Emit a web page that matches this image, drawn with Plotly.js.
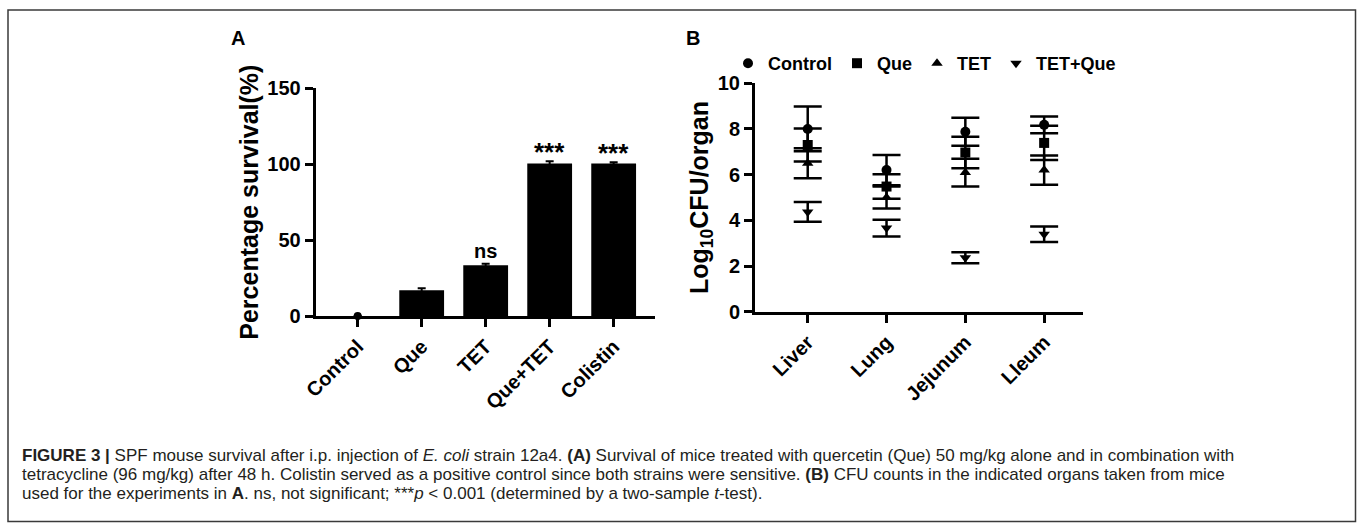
<!DOCTYPE html>
<html>
<head>
<meta charset="utf-8">
<script src="https://cdn.plot.ly/plotly-3.0.1.min.js"></script>
<style>
  html, body { margin: 0; padding: 0; background: #ffffff; }
  #chart { width: 1360px; height: 523px; }
</style>
</head>
<body>
<div id="chart"></div>
<script>
// ---------- Panel A data ----------
const categoriesA = ['Control', 'Que', 'TET', 'Que+TET', 'Colistin'];
const survival = [0, 17, 33.5, 100.5, 100.5];
const survivalErr = [0, 1.2, 1.0, 1.5, 0.8];
const sigLabels = ['', '', 'ns', '***', '***'];

// ---------- Panel B data ----------
const organs = ['Liver', 'Lung', 'Jejunum', 'Lleum'];
const seriesNames = ['Control', 'Que', 'TET', 'TET+Que'];
const controlCFU = [8.0, 6.2, 7.88, 8.18];
const controlErr = [0.98, 0.66, 0.61, 0.37];
const queCFU = [7.3, 5.48, 6.97, 7.39];
const queErr = [0.72, 0.54, 0.69, 0.75];
const tetCFU = [6.5, 5.0, 6.09, 6.2];
const tetErr = [0.66, 0.48, 0.61, 0.64];
const tetQueCFU = [4.37, 3.66, 2.36, 3.39];
const tetQueErr = [0.43, 0.37, 0.24, 0.34];

const seriesValues = [controlCFU, queCFU, tetCFU, tetQueCFU];
const seriesErrors = [controlErr, queErr, tetErr, tetQueErr];
const seriesSymbols = ['circle', 'square', 'triangle-up', 'triangle-down'];

const FONT = 'Liberation Sans, Arial, Helvetica, sans-serif';
const boldFont = (size) => ({ family: FONT, size: size, color: '#000000', weight: 'bold' });

const traces = [];

// Panel A bars
traces.push({
  type: 'bar',
  x: categoriesA,
  y: survival,
  xaxis: 'x', yaxis: 'y',
  marker: { color: '#000000', line: { width: 0 } },
  error_y: { type: 'data', array: survivalErr, visible: true, color: '#000000', thickness: 2, width: 4 },
  showlegend: false,
  hoverinfo: 'x+y'
});
// Control (zero-height) shown as a dot, as in the original
traces.push({
  type: 'scatter',
  mode: 'markers',
  x: [categoriesA[0]],
  y: [survival[0]],
  xaxis: 'x', yaxis: 'y',
  marker: { color: '#000000', size: 8, symbol: 'circle' },
  showlegend: false,
  cliponaxis: false
});

// Panel B scatter with error bars
for (let i = 0; i < seriesNames.length; i++) {
  traces.push({
    type: 'scatter',
    mode: 'markers',
    name: seriesNames[i],
    x: organs,
    y: seriesValues[i],
    xaxis: 'x2', yaxis: 'y2',
    marker: { color: '#000000', size: 10, symbol: seriesSymbols[i] },
    error_y: { type: 'data', array: seriesErrors[i], visible: true, color: '#000000', thickness: 2.5, width: 14 },
    cliponaxis: false
  });
}

const annotations = [];
// significance labels
for (let i = 0; i < categoriesA.length; i++) {
  if (!sigLabels[i]) continue;
  const isNs = sigLabels[i] === 'ns';
  annotations.push({
    x: categoriesA[i], y: survival[i] + survivalErr[i],
    xref: 'x', yref: 'y',
    text: sigLabels[i],
    showarrow: false,
    yanchor: 'bottom',
    yshift: isNs ? 0 : -8,
    font: isNs ? boldFont(20) : boldFont(26)
  });
}
// panel letters
annotations.push({ x: 238 / 1360, y: 1 - 38 / 523, xref: 'paper', yref: 'paper', text: '<b>A</b>',
  showarrow: false, xanchor: 'center', yanchor: 'middle', font: { family: FONT, size: 20, color: '#000000' } });
annotations.push({ x: 693 / 1360, y: 1 - 38 / 523, xref: 'paper', yref: 'paper', text: '<b>B</b>',
  showarrow: false, xanchor: 'center', yanchor: 'middle', font: { family: FONT, size: 20, color: '#000000' } });

// caption
const captionLines = [
  '<b>FIGURE 3 |</b> SPF mouse survival after i.p. injection of <i>E. coli</i> strain 12a4. <b>(A)</b> Survival of mice treated with quercetin (Que) 50 mg/kg alone and in combination with',
  'tetracycline (96 mg/kg) after 48 h. Colistin served as a positive control since both strains were sensitive. <b>(B)</b> CFU counts in the indicated organs taken from mice',
  'used for the experiments in <b>A</b>. ns, not significant; ***<i>p</i> &lt; 0.001 (determined by a two-sample <i>t</i>-test).'
];
const captionY = [455, 474.5, 493.5];
for (let i = 0; i < captionLines.length; i++) {
  annotations.push({
    x: 20 / 1360, y: 1 - captionY[i] / 523, xref: 'paper', yref: 'paper',
    text: captionLines[i], showarrow: false, xanchor: 'left', yanchor: 'middle', align: 'left',
    font: { family: FONT, size: 17, color: '#231f20' }
  });
}

const layout = {
  width: 1360, height: 523,
  margin: { l: 0, r: 0, t: 0, b: 0 },
  paper_bgcolor: '#ffffff', plot_bgcolor: 'rgba(0,0,0,0)',
  showlegend: true,
  legend: {
    orientation: 'h', x: 728 / 1360, y: 1 - 45 / 523, xanchor: 'left', yanchor: 'top',
    font: boldFont(18), bgcolor: 'rgba(0,0,0,0)', itemclick: false, tracegroupgap: 0
  },
  bargap: 0.3,
  xaxis: {
    domain: [315.7 / 1360, 655 / 1360], anchor: 'y', type: 'category',
    range: [-0.656, 4.646],
    showline: true, linewidth: 3, linecolor: '#000000', mirror: false,
    ticks: 'outside', ticklen: 8, tickwidth: 3, tickcolor: '#000000',
    tickangle: -45, tickfont: boldFont(20),
    showgrid: false, zeroline: false, fixedrange: true
  },
  yaxis: {
    domain: [1 - 316 / 523, 1 - 88.3 / 523], anchor: 'x',
    range: [0, 150], tickvals: [0, 50, 100, 150],
    showline: true, linewidth: 3, linecolor: '#000000',
    ticks: 'outside', ticklen: 8, tickwidth: 3, tickcolor: '#000000',
    tickfont: boldFont(20),
    showgrid: false, zeroline: false, fixedrange: true,
    title: { text: 'Percentage survival(%)', font: boldFont(25), standoff: 2 }
  },
  xaxis2: {
    domain: [755 / 1360, 1083 / 1360], anchor: 'y2', type: 'category',
    range: [-0.669, 3.493],
    showline: true, linewidth: 3, linecolor: '#000000',
    ticks: 'outside', ticklen: 8, tickwidth: 3, tickcolor: '#000000',
    tickangle: -45, tickfont: boldFont(20),
    showgrid: false, zeroline: false, fixedrange: true
  },
  yaxis2: {
    domain: [1 - 311.7 / 523, 1 - 83.3 / 523], anchor: 'x2',
    range: [0, 10], tickvals: [0, 2, 4, 6, 8, 10],
    showline: true, linewidth: 3, linecolor: '#000000',
    ticks: 'outside', ticklen: 8, tickwidth: 3, tickcolor: '#000000',
    tickfont: boldFont(20),
    showgrid: false, zeroline: false, fixedrange: true,
    title: { text: 'Log<sub>10</sub>CFU/organ', font: boldFont(25), standoff: 3 }
  },
  shapes: [{
    type: 'rect', xref: 'paper', yref: 'paper',
    x0: 8 / 1360, x1: 1355.5 / 1360, y0: 1 - 521.5 / 523, y1: 1 - 10 / 523,
    line: { color: '#3a3a3a', width: 1.5 }, fillcolor: 'rgba(0,0,0,0)', layer: 'below'
  }],
  annotations: annotations
};

Plotly.newPlot('chart', traces, layout, { displayModeBar: false, staticPlot: true });
</script>
</body>
</html>
